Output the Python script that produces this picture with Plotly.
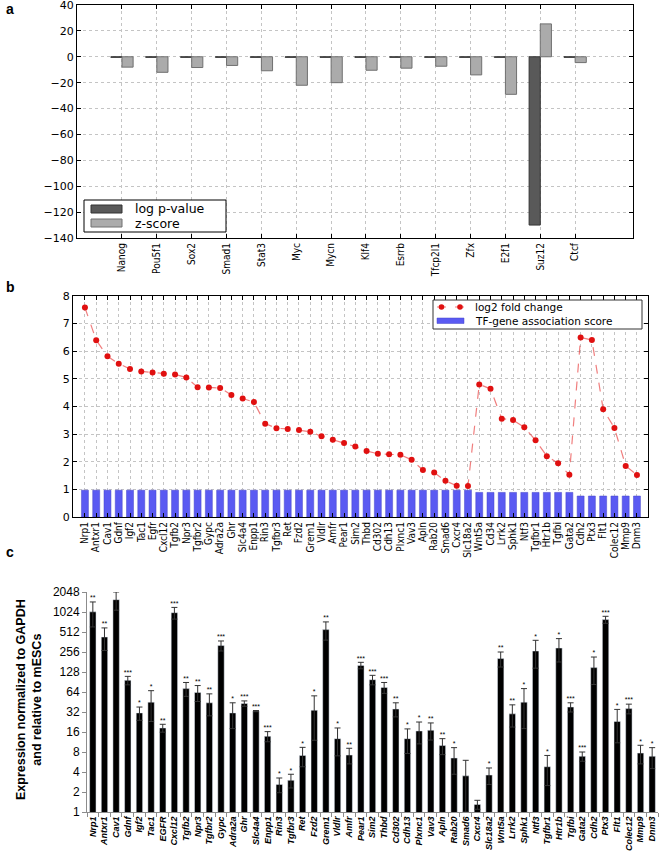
import plotly.graph_objects as go

# ---- panel a: TF enrichment ----
tfs = ["Nanog", "Pou5f1", "Sox2", "Smad1", "Stat3", "Myc", "Mycn", "Klf4",
       "Esrrb", "Tfcp2l1", "Zfx", "E2f1", "Suz12", "Ctcf"]
log_p = [-0.4, -0.4, -0.4, -0.4, -0.4, -0.4, -0.4, -0.4, -0.4, -0.4, -0.4, -0.4, -130, -0.4]
z_score = [-8, -12, -8.3, -6.7, -10.8, -22, -20, -10.4, -8.8, -7.3, -14, -29, 25.4, -4.5]

# ---- panel b: target genes ----
genes_b = ["Nrp1", "Antxr1", "Cav1", "Gdnf", "Igf2", "Tac1", "Egfr", "Cxcl12", "Tgfb2", "Npr3",
           "Tgfbr2", "Gypc", "Adra2a", "Ghr", "Slc4a4", "Enpp1", "Rin3", "Tgfbr3", "Ret", "Fzd2",
           "Grem1", "Vldlr", "Amfr", "Pear1", "Sim2", "Thbd", "Cd302", "Cdh13", "Plxnc1", "Vav3",
           "Apln", "Rab20", "Smad6", "Cxcr4", "Slc18a2", "Wnt5a", "Cd34", "Lrrk2", "Sphk1", "Ntf3",
           "Tgfbr1", "Htr1b", "Tgfbi", "Gata2", "Cdh2", "Ptx3", "Flt1", "Colec12", "Mmp9", "Dnm3"]
fold_change = [7.58, 6.40, 5.82, 5.55, 5.36, 5.27, 5.23, 5.19, 5.16, 5.05,
               4.70, 4.69, 4.67, 4.42, 4.29, 4.16, 3.38, 3.21, 3.19, 3.15,
               3.09, 2.92, 2.80, 2.68, 2.55, 2.39, 2.29, 2.27, 2.25, 2.07,
               1.70, 1.61, 1.31, 1.13, 1.12, 4.80, 4.64, 3.56, 3.51, 3.25,
               2.78, 2.20, 1.95, 1.53, 6.50, 6.41, 3.90, 3.22, 1.85, 1.52]
assoc_score = [0.97] * 35 + [0.89] * 9 + [0.76] * 6

# ---- panel c: qPCR ----
genes_c = ["Nrp1", "Antxr1", "Cav1", "Gdnf", "Igf2", "Tac1", "EGFR", "Cxcl12", "Tgfb2", "Npr3",
           "Tgfbr2", "Gypc", "Adra2a", "Ghr", "Slc4a4", "Enpp1", "Rin3", "Tgfbr3", "Ret", "Fzd2",
           "Grem1", "Vldlr", "Amfr", "Pear1", "Sim2", "Thbd", "Cd302", "Cdh13", "Plxnc1", "Vav3",
           "Apln", "Rab20", "Smad6", "Cxcr4", "Slc18a2", "Wnt5a", "Lrrk2", "Sphk1", "Ntf3", "Tgfbr1",
           "Htr1b", "Tgfbi", "Gata2", "Cdh2", "Ptx3", "Flt1", "Colec12", "Mmp9", "Dnm3"]
expr = [1030, 430, 1570, 96, 31, 45, 18.4, 1000, 72, 63,
        44, 320, 31, 43, 33, 13.8, 2.6, 3.0, 7.1, 34,
        556, 12.7, 7.2, 161, 98, 75, 35.5, 12.7, 16.6, 17,
        10, 6.5, 3.5, 1.3, 3.6, 204, 30, 45, 265, 4.8,
        294, 38, 6.9, 149, 787, 23, 36, 7.7, 6.9]
expr_err = [420, 160, 480, 14, 7, 22, 2.5, 200, 17, 17,
            16, 55, 13, 4, 0.7, 2.4, 0.65, 0.7, 2.3, 22,
            170, 5.7, 1.9, 18, 16, 14, 8.5, 5.1, 6, 4.9,
            2.7, 2.8, 2.5, 0.2, 1.0, 52, 11, 27, 119, 2.3,
            113, 6, 1.1, 66, 95, 12, 6, 2.4, 2.4]
stars = ["**", "**", "**", "***", "*", "*", "**", "***", "**", "**",
         "**", "***", "*", "***", "***", "***", "*", "*", "*", "*",
         "**", "*", "**", "***", "***", "***", "**", "*", "*", "**",
         "**", "*", "", "", "*", "**", "**", "*", "*", "*",
         "*", "***", "***", "*", "***", "*", "***", "*", "*"]
pow2 = [1, 2, 4, 8, 16, 32, 64, 128, 256, 512, 1024, 2048]

fig = go.Figure()

xa = list(range(len(tfs)))
fig.add_trace(go.Bar(x=xa, y=log_p, name="log p-value", offset=-0.32, width=0.32,
                     marker=dict(color="#595959", line=dict(color="#333333", width=1)),
                     xaxis="x", yaxis="y", showlegend=False))
fig.add_trace(go.Bar(x=xa, y=z_score, name="z-score", offset=0, width=0.32,
                     marker=dict(color="#ababab", line=dict(color="#707070", width=1)),
                     xaxis="x", yaxis="y", showlegend=False))

xb = list(range(len(genes_b)))
fig.add_trace(go.Bar(x=xb, y=assoc_score, name="TF-gene association score", width=0.62,
                     marker=dict(color="#5a5af2", line=dict(color="#4646c8", width=0.5)),
                     xaxis="x2", yaxis="y2", showlegend=False))
fig.add_trace(go.Scatter(x=xb, y=fold_change, name="log2 fold change", mode="lines+markers",
                         line=dict(color="rgba(230,40,40,0.6)", width=1.2, dash="dash"),
                         marker=dict(color="#e01010", size=6),
                         xaxis="x2", yaxis="y2", showlegend=False))

xc = list(range(len(genes_c)))
fig.add_trace(go.Bar(x=xc, y=expr, width=0.55, marker=dict(color="black"),
                     error_y=dict(type="data", array=expr_err, color="#333333", thickness=1, width=3),
                     xaxis="x3", yaxis="y3", showlegend=False))
fig.add_trace(go.Scatter(x=xc, y=[v + e for v, e in zip(expr, expr_err)], text=stars,
                         mode="text", textposition="top center",
                         textfont=dict(size=7, color="black", family="Liberation Sans"),
                         xaxis="x3", yaxis="y3", showlegend=False))

W, H = 660, 852
def px(x0, x1):
    return [x0 / W, x1 / W]
def py(top, bottom):
    return [1 - bottom / H, 1 - top / H]

mpl_font = dict(family="DejaVu Sans", size=11, color="black")
grid = dict(showgrid=True, gridcolor="#c4c4c4", griddash="dot", gridwidth=1,
            showline=True, linecolor="black", linewidth=1, mirror="ticks",
            ticks="inside", ticklen=4, tickcolor="black", zeroline=False,
            automargin=False, ticklabeloverflow="allow")

# hand-drawn legend boxes (matplotlib style), pixel coords -> paper
shapes = []
annots = []
def box(x0, x1, y0, y1, fill, line, lw=1):
    shapes.append(dict(type="rect", xref="paper", yref="paper",
                       x0=x0 / W, x1=x1 / W, y0=1 - y1 / H, y1=1 - y0 / H,
                       fillcolor=fill, line=dict(color=line, width=lw)))
def label(txt, x, y, size, family="DejaVu Sans", bold=False, **kw):
    annots.append(dict(text=("<b>%s</b>" % txt) if bold else txt, x=x / W, y=1 - y / H,
                       xref="paper", yref="paper", xanchor="left", yanchor="middle",
                       showarrow=False, font=dict(family=family, size=size, color="black"), **kw))

box(84, 226, 200, 232, "white", "black")
box(91, 122, 205, 213, "#595959", "#333333")
box(91, 122, 219, 227, "#ababab", "#707070")
label("log p-value", 133, 209, 12.5)
label("z-score", 133, 223.5, 12.5)

box(433, 642, 300, 329, "white", "#333333")
shapes.append(dict(type="line", xref="paper", yref="paper", x0=437 / W, x1=464 / W,
                   y0=1 - 307 / H, y1=1 - 307 / H,
                   line=dict(color="rgba(230,40,40,0.6)", width=1.2, dash="dash")))
for cx in (441.5, 460):
    shapes.append(dict(type="circle", xref="paper", yref="paper",
                       x0=(cx - 2.8) / W, x1=(cx + 2.8) / W, y0=1 - 309.8 / H, y1=1 - 304.2 / H,
                       fillcolor="#e01010", line=dict(width=0)))
box(437, 464, 318, 323.5, "#5a5af2", "#4646c8", 0.5)
label("log2 fold change", 473, 307, 10.5)
label("TF-gene association score", 473, 321, 10.5)

label("a", 4, 9, 14, family="Liberation Sans", bold=True)
label("b", 4, 287, 14, family="Liberation Sans", bold=True)
label("c", 4, 552, 14, family="Liberation Sans", bold=True)
annots.append(dict(text="<b>Expression normalized to GAPDH<br>and relative to mESCs</b>",
                   x=29 / W, y=1 - 700 / H, xref="paper", yref="paper", textangle=-90,
                   xanchor="center", yanchor="middle", showarrow=False,
                   font=dict(family="Liberation Sans", size=12.5, color="black")))

fig.update_layout(
    width=W, height=H, margin=dict(l=0, r=0, t=0, b=0),
    paper_bgcolor="white", plot_bgcolor="white", barmode="overlay", showlegend=False,
    xaxis=dict(domain=px(77, 633), anchor="y", range=[-1.29, 14.66],
               tickvals=xa, ticktext=tfs, tickangle=-90,
               tickfont=dict(family="DejaVu Sans Condensed, DejaVu Sans", size=10, color="black"),
               **grid),
    yaxis=dict(domain=py(5, 238), anchor="x", range=[-140, 40], dtick=20,
               tickfont=mpl_font, **grid),
    xaxis2=dict(domain=px(73, 648), anchor="y2", range=[-1.06, 49.98],
                tickvals=xb, ticktext=genes_b, tickangle=-90,
                tickfont=dict(family="DejaVu Sans Condensed, DejaVu Sans", size=10, color="black"),
                **grid),
    yaxis2=dict(domain=py(296, 517), anchor="x2", range=[0, 8], dtick=1,
                tickfont=mpl_font, **grid),
    xaxis3=dict(domain=px(87, 658), anchor="y3", range=[-0.5, 48.5],
                tickvals=xc, ticktext=genes_c, tickangle=-90, ticks="",
                automargin=False, ticklabeloverflow="allow",
                tickfont=dict(family="Liberation Sans", size=9, color="black",
                              weight="bold", style="italic"),
                showline=True, linecolor="#8c8c8c", showgrid=False, zeroline=False,
                minor=dict(ticks="outside", tick0=0.5, dtick=1, ticklen=4, tickcolor="#8c8c8c")),
    yaxis3=dict(domain=py(592, 812), anchor="x3", type="log", range=[0, 3.3113],
                tickvals=pow2, ticktext=[str(v) for v in pow2],
                automargin=False, ticklabeloverflow="allow",
                tickfont=dict(family="Liberation Sans", size=12, color="black"),
                showline=True, linecolor="#8c8c8c", ticks="outside", ticklen=4,
                tickcolor="#8c8c8c", showgrid=False, zeroline=False),
    shapes=shapes,
    annotations=annots,
)

# page body has an 8px default margin; drop it so the 660x852 figure fills the window
fig.write_html("out.html", config={"displayModeBar": False},
               post_script="document.body.style.margin='0';")
